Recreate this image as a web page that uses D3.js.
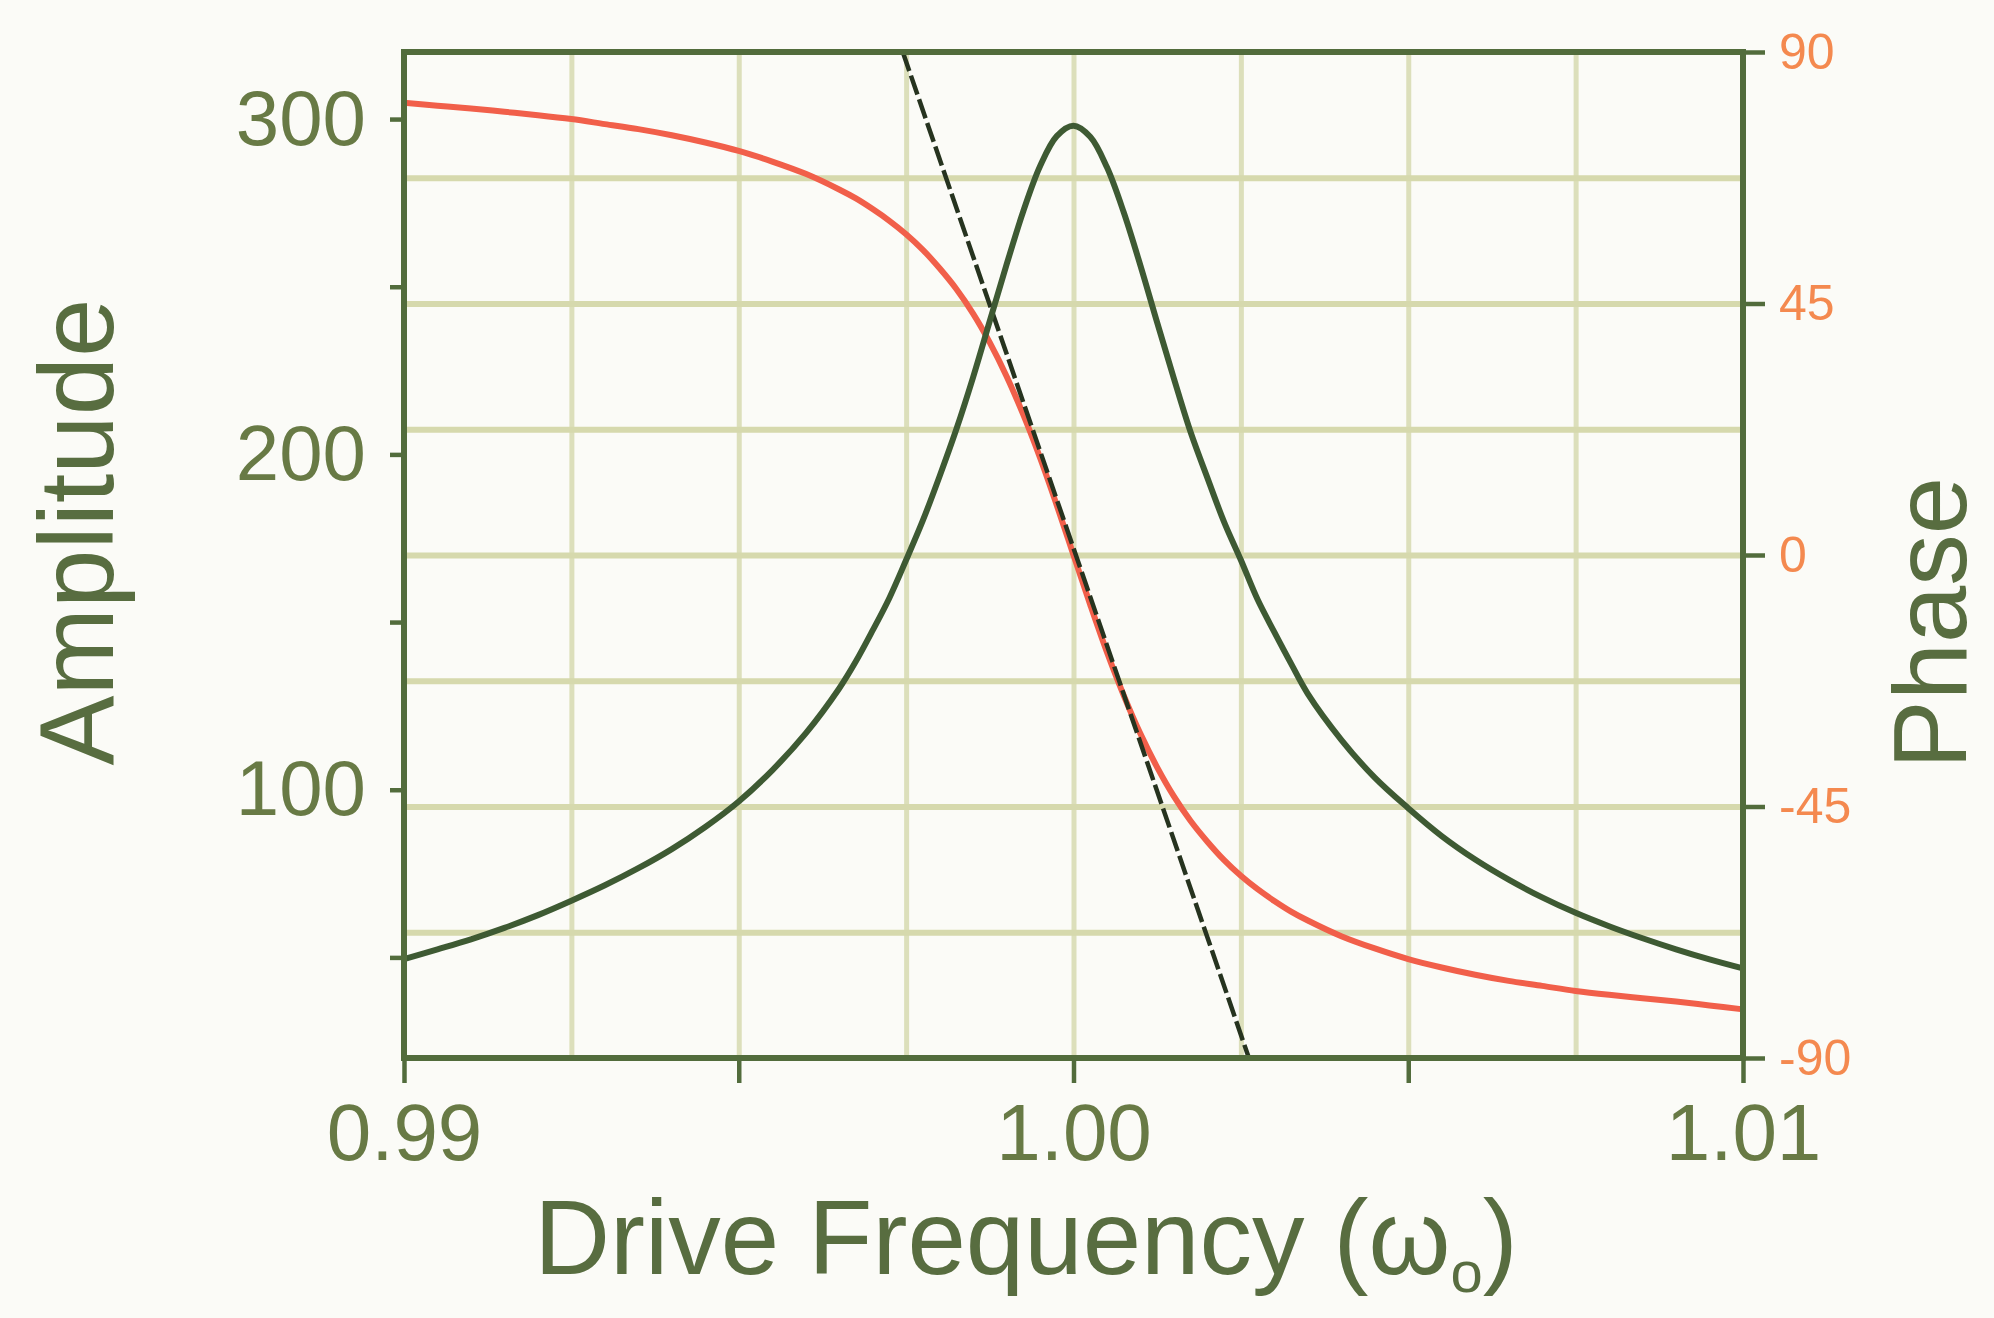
<!DOCTYPE html>
<html><head><meta charset="utf-8">
<script src="https://cdn.jsdelivr.net/npm/d3@7"></script>
<style>
html,body{margin:0;padding:0;background:#fbfbf7;}
svg{display:block;}
text{font-family:"Liberation Sans",Arial,Helvetica,sans-serif;}
</style></head><body>
<svg id="chart" width="1994" height="1318"></svg>
<script>
// ---- data ----
const frequency = [0.9900,0.9905,0.9910,0.9915,0.9920,0.9925,0.9930,0.9935,0.9940,0.9945,
  0.9950,0.9955,0.9960,0.9965,
  0.99675,0.9970,0.99725,0.9975,0.99775,0.9980,0.99825,0.9985,0.99875,0.9990,
  0.99925,0.9995,0.99975,1.0000,1.00025,1.0005,1.00075,1.0010,1.00125,1.0015,
  1.00175,1.0020,1.00225,1.0025,1.00275,1.0030,1.00325,
  1.0035,1.0040,1.0045,1.0050,1.0055,1.0060,1.0065,1.0070,1.0075,1.0080,1.0085,1.0090,1.0095,1.0100];
const amplitude = [49.5,52.4,55.4,58.8,62.6,66.9,71.5,76.6,82.3,88.9,
  96.5,105.8,116.8,130.2,
  138.3,147.5,157.2,168.5,180.3,193.5,207.5,223.0,239.8,256.6,
  272.5,285.9,294.9,298.0,294.7,285.6,272.2,256.3,239.3,222.6,
  206.6,193.0,179.8,168.5,156.7,147.0,137.6,
  128.6,114.9,103.6,94.5,86.2,79.2,73.2,67.9,63.3,59.3,55.7,52.4,49.4,46.7];
const phase = [80.9,80.4,79.9,79.3,78.7,78.0,77.1,76.2,75.1,73.8,
  72.3,70.4,68.2,65.4,
  63.8,61.9,59.8,57.4,54.6,51.3,47.6,43.2,38.0,32.0,
  25.1,17.4,8.9,0.0,-8.9,-17.4,-25.1,-32.0,-38.0,-43.2,
  -47.6,-51.3,-54.6,-57.4,-59.8,-61.9,-63.8,
  -65.4,-68.2,-70.4,-72.3,-73.8,-75.1,-76.2,-77.1,-78.0,-78.7,-79.3,-79.9,-80.6,-81.3];
const tangentFrequency = [0.99745, 1.00262];
const tangentPhase = [90, -90];

const xTickValues = [0.99, 0.995, 1.00, 1.005, 1.01];
const xTickLabels = ["0.99", "", "1.00", "", "1.01"];
const ampTickValues = [50, 100, 150, 200, 250, 300];
const ampTickLabels = ["", "100", "", "200", "", "300"];
const phaseTickValues = [-90, -45, 0, 45, 90];
const phaseTickLabels = ["-90", "-45", "0", "45", "90"];
const xGridValues = [0.9925, 0.995, 0.9975, 1.0, 1.0025, 1.005, 1.0075];
const phaseGridValues = [-67.5, -45, -22.5, 0, 22.5, 45, 67.5];

const xDomain = [0.99, 1.01];
const ampDomain = [20, 320];
const phaseDomain = [-90, 90];

// ---- layout ----
const W = 1994, H = 1318;
const m = {top: 52, right: 251, bottom: 260, left: 404};
const iw = W - m.left - m.right, ih = H - m.top - m.bottom;

const C = {
  bg: "#fbfbf7", frame: "#526c3c", grid: "#d6d9ad", gridV: "#dcdfbb",
  amp: "#3e5a33", phase: "#f15f4a", dash: "#26331f",
  tick: "#687a45", title: "#586d40", phaseTick: "#f4894f"
};

const svg = d3.select("#chart");
svg.append("rect").attr("width", W).attr("height", H).attr("fill", C.bg);

const x = d3.scaleLinear().domain(xDomain).range([m.left, m.left + iw]);
const yA = d3.scaleLinear().domain(ampDomain).range([m.top + ih, m.top]);
const yP = d3.scaleLinear().domain(phaseDomain).range([m.top + ih, m.top]);

// ---- grid ----
const gx = svg.append("g").attr("transform", `translate(0,${m.top + ih})`)
  .call(d3.axisBottom(x).tickValues(xGridValues).tickSize(-ih).tickFormat(""));
gx.select(".domain").remove();
gx.selectAll("line").attr("stroke", C.gridV).attr("stroke-width", 5);

const gy = svg.append("g").attr("transform", `translate(${m.left},0)`)
  .call(d3.axisLeft(yP).tickValues(phaseGridValues).tickSize(-iw).tickFormat(""));
gy.select(".domain").remove();
gy.selectAll("line").attr("stroke", C.grid).attr("stroke-width", 6);

// ---- curves ----
const phasePts = frequency.map((f, i) => [f, phase[i]]);
const ampPts = frequency.map((f, i) => [f, amplitude[i]]);
const tanPts = tangentFrequency.map((f, i) => [f, tangentPhase[i]]);

svg.append("path").datum(phasePts)
  .attr("fill", "none").attr("stroke", C.phase).attr("stroke-width", 6)
  .attr("stroke-linejoin", "round")
  .attr("d", d3.line().x(d => x(d[0])).y(d => yP(d[1])).curve(d3.curveCatmullRom.alpha(0.5)));

svg.append("path").datum(tanPts)
  .attr("fill", "none").attr("stroke", C.dash).attr("stroke-width", 4.5)
  .attr("stroke-dasharray", "20,5")
  .attr("d", d3.line().x(d => x(d[0])).y(d => yP(d[1])));

svg.append("path").datum(ampPts)
  .attr("fill", "none").attr("stroke", C.amp).attr("stroke-width", 6)
  .attr("stroke-linejoin", "round")
  .attr("d", d3.line().x(d => x(d[0])).y(d => yA(d[1])).curve(d3.curveCatmullRom.alpha(0.5)));

// ---- frame ----
svg.append("rect").attr("x", m.left).attr("y", m.top).attr("width", iw).attr("height", ih)
  .attr("fill", "none").attr("stroke", C.frame).attr("stroke-width", 6);

// ---- axes ----
const ax = svg.append("g").attr("transform", `translate(0,${m.top + ih})`)
  .call(d3.axisBottom(x).tickValues(xTickValues).tickSizeInner(25).tickSizeOuter(0)
    .tickPadding(20).tickFormat((d, i) => xTickLabels[i]));
ax.select(".domain").remove();
ax.selectAll("line").attr("stroke", C.frame).attr("stroke-width", 4.5);
ax.selectAll("text").attr("fill", C.tick).attr("font-size", 80)
  .attr("font-family", '"Liberation Sans",Arial,sans-serif');

const al = svg.append("g").attr("transform", `translate(${m.left},0)`)
  .call(d3.axisLeft(yA).tickValues(ampTickValues).tickSizeInner(14).tickSizeOuter(0)
    .tickPadding(24).tickFormat((d, i) => ampTickLabels[i]));
al.select(".domain").remove();
al.selectAll("line").attr("stroke", C.frame).attr("stroke-width", 4.5);
al.selectAll("text").attr("fill", C.tick).attr("font-size", 78)
  .attr("font-family", '"Liberation Sans",Arial,sans-serif');

const ar = svg.append("g").attr("transform", `translate(${m.left + iw},0)`)
  .call(d3.axisRight(yP).tickValues(phaseTickValues).tickSizeInner(22).tickSizeOuter(0)
    .tickPadding(14).tickFormat((d, i) => phaseTickLabels[i]));
ar.select(".domain").remove();
ar.selectAll("line").attr("stroke", C.frame).attr("stroke-width", 4.5);
ar.selectAll("text").attr("fill", C.phaseTick).attr("font-size", 50)
  .attr("font-family", '"Liberation Sans",Arial,sans-serif');

// ---- titles ----
const xt = svg.append("text").attr("x", 1026).attr("y", 1274)
  .attr("text-anchor", "middle").attr("font-size", 105).attr("fill", C.title);
xt.append("tspan").text("Drive Frequency (\u03c9");
xt.append("tspan").attr("font-size", 58).attr("dy", 18).text("o");
xt.append("tspan").attr("dy", -18).text(")");

svg.append("text").attr("transform", "translate(113,532) rotate(-90)")
  .attr("text-anchor", "middle").attr("font-size", 105).attr("fill", C.title)
  .text("Amplitude");

svg.append("text").attr("transform", "translate(1966,623) rotate(-90)")
  .attr("text-anchor", "middle").attr("font-size", 103).attr("fill", C.title)
  .text("Phase");
</script>
</body></html>
